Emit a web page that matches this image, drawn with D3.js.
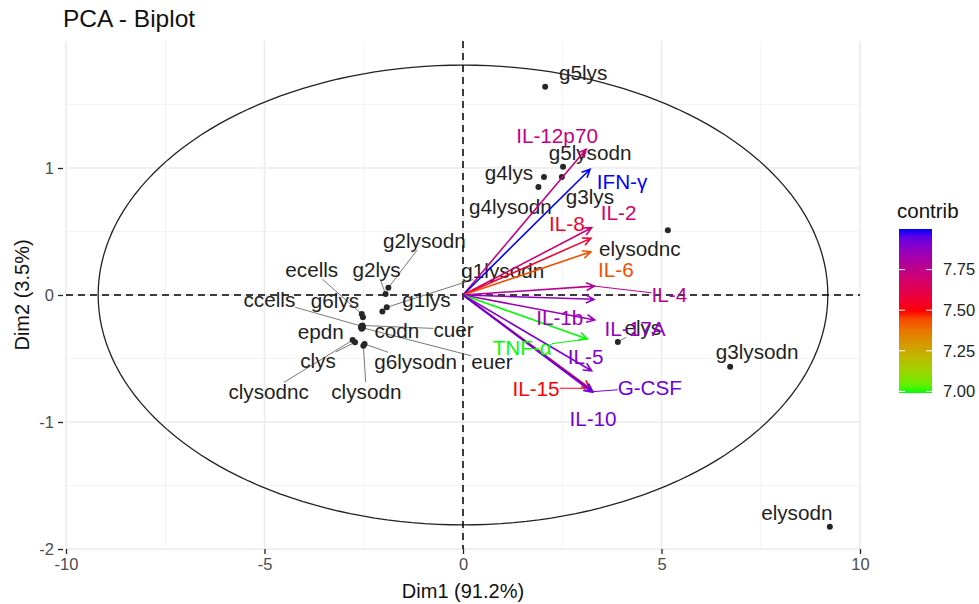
<!DOCTYPE html>
<html>
<head>
<meta charset="utf-8">
<script src="https://cdn.jsdelivr.net/npm/d3@7"></script>
<style>
  body { margin: 0; background: #fff; }
  text { font-family: "Liberation Sans", Arial, sans-serif; }
</style>
</head>
<body>
<svg id="chart" width="979" height="604"></svg>
<script>
// ---- Individuals (PCA scores) ----
const indNames = ["g5lys","g5lysodn","g4lys","g3lys","g4lysodn","elysodnc","elys","g3lysodn","elysodn",
  "g2lysodn","g2lys","g1lysodn","g1lys","ecells","g6lys","ccells","epdn","codn","cuer","euer",
  "clys","clysodnc","g6lysodn","clysodn"];
const indDim1 = [2.07, 2.52, 2.04, 2.49, 1.90, 5.16, 3.90, 6.73, 9.24,
  -1.88, -1.95, -1.92, -2.03, -2.55, -2.52, -2.56, -2.55, -2.52, -2.53, -2.57,
  -2.72, -2.78, -2.48, -2.51];
const indDim2 = [1.64, 1.01, 0.93, 0.93, 0.85, 0.51, -0.37, -0.565, -1.825,
  0.057, 0.008, -0.097, -0.13, -0.15, -0.176, -0.245, -0.265, -0.255, -0.24, -0.255,
  -0.372, -0.355, -0.386, -0.40];

// ---- Variables (scaled loadings) and their contributions ----
const varNames = ["IL-12p70","IFN-γ","IL-2","IL-8","IL-6","IL-4","IL-17A","IL-1b","TNF-α","IL-5","IL-15","G-CSF","IL-10"];
const varDim1 = [3.10, 3.20, 3.24, 3.22, 3.22, 3.31, 3.30, 3.32, 3.13, 3.24, 3.20, 3.27, 3.25];
const varDim2 = [1.147, 0.99, 0.53, 0.446, 0.34, 0.07, -0.034, -0.197, -0.346, -0.596, -0.735, -0.761, -0.765];
const varContrib = [7.73, 8.00, 7.70, 7.55, 7.44, 7.77, 7.87, 7.85, 6.99, 7.90, 7.50, 7.93, 7.92];

// ---- Axis ticks, legend ticks, correlation ellipse radii ----
const xTicks = [-10, -5, 0, 5, 10];
const yTicks = [-2, -1, 0, 1];
const xMinor = [-7.5, -2.5, 2.5, 7.5];
const yMinor = [-1.5, -0.5, 0.5, 1.5];
const legendTicks = [7.00, 7.25, 7.50, 7.75];
const ellipseRadii = [9.19, 1.81];

// ---- Repelled label placement: pixel shift from the mark, and whether a leader segment is drawn ----
const indLabelShift = {
  "g5lys": [38, -14, 0], "g5lysodn": [27, -14, 0], "g4lys": [-35, -4, 0], "g3lys": [28, 20, 0],
  "g4lysodn": [-28, 20, 0], "elysodnc": [-28, 19, 0], "elys": [25, -14, 1], "g3lysodn": [27, -15, 0],
  "elysodn": [-33, -14, 0], "g2lysodn": [36, -47, 1], "g2lys": [-9, -24, 1], "g1lysodn": [116, -37, 1],
  "g1lys": [44, -12, 0], "ecells": [-50, -44, 1], "g6lys": [-28, -17, 0], "ccells": [-92, -26, 1],
  "epdn": [-41, 3, 0], "codn": [34, 3, 0], "cuer": [91, 4, 1], "euer": [131, 34, 1],
  "clys": [-37, 19, 1], "clysodnc": [-84, 52, 1], "g6lysodn": [51, 18, 1], "clysodn": [3, 46, 1]
};
const varLabelShift = {
  "IL-12p70": [-29, -14, 0], "IFN-γ": [32, 12, 0], "IL-2": [27, -15, 0], "IL-8": [-24, -15, 0],
  "IL-6": [25, 18, 0], "IL-4": [75, 9, 1], "IL-17A": [41, 29, 0], "IL-1b": [-35, -2, 0],
  "TNF-α": [-65, 9, 1], "IL-5": [-6, -14, 0], "IL-15": [-54, 0, 1], "G-CSF": [57, -4, 1], "IL-10": [1, 27, 0]
};

const inds = indNames.map((n, i) => ({ name: n, x: indDim1[i], y: indDim2[i] }));
const vars = varNames.map((n, i) => ({ name: n, x: varDim1[i], y: varDim2[i], c: varContrib[i] }));

const svg = d3.select("#chart");
const panel = { left: 66, right: 860, top: 41, bottom: 549 };
const x = d3.scaleLinear().domain([-10, 10]).range([panel.left, panel.right]);
const y = d3.scaleLinear().domain([-2, 2]).range([panel.bottom, panel.top]);

const cMin = d3.min(varContrib), cMax = d3.max(varContrib);
const color = d3.scaleLinear()
  .domain([cMin, (cMin + cMax) / 2, cMax])
  .range(["#00ff00", "#ff0000", "#0000ff"])
  .interpolate(d3.interpolateLab);

// Grid
const grid = svg.append("g");
grid.selectAll(".xminor").data(xMinor).join("line")
  .attr("x1", d => x(d)).attr("x2", d => x(d)).attr("y1", panel.top).attr("y2", panel.bottom)
  .attr("stroke", "#f0f0f0").attr("stroke-width", 0.8);
grid.selectAll(".yminor").data(yMinor).join("line")
  .attr("y1", d => y(d)).attr("y2", d => y(d)).attr("x1", panel.left).attr("x2", panel.right)
  .attr("stroke", "#f0f0f0").attr("stroke-width", 0.8);
grid.selectAll(".xmajor").data(xTicks).join("line")
  .attr("x1", d => x(d)).attr("x2", d => x(d)).attr("y1", panel.top).attr("y2", panel.bottom)
  .attr("stroke", "#ebebeb").attr("stroke-width", 1.5);
grid.selectAll(".ymajor").data(yTicks).join("line")
  .attr("y1", d => y(d)).attr("y2", d => y(d)).attr("x1", panel.left).attr("x2", panel.right)
  .attr("stroke", "#ebebeb").attr("stroke-width", 1.5);

// Axes (plain hyphen-minus in tick labels)
const fmt = d => String(d);
const xAxis = svg.append("g").attr("transform", `translate(0,${panel.bottom})`)
  .call(d3.axisBottom(x).tickValues(xTicks).tickSize(5).tickPadding(4).tickFormat(fmt));
const yAxis = svg.append("g").attr("transform", `translate(${panel.left - 3},0)`)
  .call(d3.axisLeft(y).tickValues(yTicks).tickSize(5).tickPadding(4).tickFormat(fmt));
[xAxis, yAxis].forEach(a => {
  a.select(".domain").remove();
  a.selectAll(".tick line").attr("stroke", "#222").attr("stroke-width", 1.3);
  a.selectAll(".tick text").attr("fill", "#4d4d4d").style("font-size", "16.5px")
    .style("font-family", "'Liberation Sans', Arial, sans-serif");
});

// Correlation ellipse
const ell = d3.range(0, 361, 2).map(a => [ellipseRadii[0] * Math.cos(a * Math.PI / 180), ellipseRadii[1] * Math.sin(a * Math.PI / 180)]);
svg.append("path")
  .attr("d", d3.line().x(d => x(d[0])).y(d => y(d[1]))(ell))
  .attr("fill", "none").attr("stroke", "#222").attr("stroke-width", 1.3);

// Zero reference lines
svg.append("line").attr("x1", x(0)).attr("x2", x(0)).attr("y1", panel.top).attr("y2", panel.bottom)
  .attr("stroke", "#000").attr("stroke-width", 1.5).attr("stroke-dasharray", "7,5");
svg.append("line").attr("y1", y(0)).attr("y2", y(0)).attr("x1", panel.left).attr("x2", panel.right)
  .attr("stroke", "#000").attr("stroke-width", 1.5).attr("stroke-dasharray", "7,5");

// Leader segment from a mark to the edge of its label box
function leader(g, px, py, textNode, stroke, width) {
  const b = textNode.getBBox();
  const cx = b.x + b.width / 2, cy = b.y + b.height / 2;
  const dx = px - cx, dy = py - cy;
  const hw = b.width / 2, hh = b.height / 2 - 2;
  const t = Math.min(Math.abs(dx) > 0 ? hw / Math.abs(dx) : Infinity, Math.abs(dy) > 0 ? hh / Math.abs(dy) : Infinity);
  if (t >= 1) return;
  g.insert("line", ":first-child")
    .attr("x1", px).attr("y1", py).attr("x2", cx + dx * t).attr("y2", cy + dy * t)
    .attr("stroke", stroke).attr("stroke-width", width);
}

// Individuals
const gInd = svg.append("g");
const gIndSeg = gInd.append("g");
gInd.selectAll("circle").data(inds).join("circle")
  .attr("cx", d => x(d.x)).attr("cy", d => y(d.y)).attr("r", 3).attr("fill", "#262626");
gInd.selectAll("text").data(inds).join("text")
  .attr("x", d => x(d.x) + indLabelShift[d.name][0])
  .attr("y", d => y(d.y) + indLabelShift[d.name][1])
  .attr("dy", "0.35em").attr("text-anchor", "middle")
  .attr("fill", "#1f1f1f").style("font-size", "20.7px")
  .text(d => d.name)
  .each(function (d) {
    if (indLabelShift[d.name][2]) leader(gIndSeg, x(d.x), y(d.y), this, "#555", 0.8);
  });

// Variables: arrows with open heads
const gVar = svg.append("g");
const gVarSeg = gVar.append("g");
const head = 9, spread = Math.PI / 7;
gVar.selectAll("path.arrow").data(vars).join("path")
  .attr("class", "arrow")
  .attr("d", d => {
    const x0 = x(0), y0 = y(0), x1 = x(d.x), y1 = y(d.y);
    const ang = Math.atan2(y1 - y0, x1 - x0);
    const a1 = ang + Math.PI - spread, a2 = ang + Math.PI + spread;
    return `M${x0},${y0}L${x1},${y1}` +
      `M${x1 + head * Math.cos(a1)},${y1 + head * Math.sin(a1)}L${x1},${y1}` +
      `L${x1 + head * Math.cos(a2)},${y1 + head * Math.sin(a2)}`;
  })
  .attr("fill", "none").attr("stroke", d => color(d.c)).attr("stroke-width", 1.6)
  .attr("stroke-linejoin", "miter");
gVar.selectAll("text").data(vars).join("text")
  .attr("x", d => x(d.x) + varLabelShift[d.name][0])
  .attr("y", d => y(d.y) + varLabelShift[d.name][1])
  .attr("dy", "0.35em").attr("text-anchor", "middle")
  .attr("fill", d => color(d.c)).style("font-size", "20.7px")
  .text(d => d.name)
  .each(function (d) {
    if (varLabelShift[d.name][2]) leader(gVarSeg, x(d.x), y(d.y), this, color(d.c), 1);
  });

// Titles
svg.append("text").attr("x", 63).attr("y", 27).style("font-size", "24.5px").attr("fill", "#111").text("PCA - Biplot");
svg.append("text").attr("x", (panel.left + panel.right) / 2).attr("y", 598).attr("text-anchor", "middle")
  .style("font-size", "20px").attr("fill", "#111").text("Dim1 (91.2%)");
svg.append("text").attr("transform", `translate(29,${y(0)}) rotate(-90)`).attr("text-anchor", "middle")
  .style("font-size", "20px").attr("fill", "#111").text("Dim2 (3.5%)");

// Colour bar legend
const lg = svg.append("g");
const barX = 899, barW = 33, barTop = 229, barBot = 393;
const ly = d3.scaleLinear().domain([cMin, cMax]).range([barBot, barTop]);
lg.append("text").attr("x", 897).attr("y", 218).style("font-size", "20.5px").attr("fill", "#111").text("contrib");
const grad = svg.append("defs").append("linearGradient").attr("id", "cgrad")
  .attr("x1", 0).attr("y1", 1).attr("x2", 0).attr("y2", 0);
d3.range(0, 1.0001, 0.05).forEach(t => {
  grad.append("stop").attr("offset", t).attr("stop-color", color(cMin + t * (cMax - cMin)));
});
lg.append("rect").attr("x", barX).attr("y", barTop).attr("width", barW).attr("height", barBot - barTop)
  .attr("fill", "url(#cgrad)");
lg.selectAll("line.tl").data(legendTicks).join("line")
  .attr("x1", barX).attr("x2", barX + 6).attr("y1", d => ly(d)).attr("y2", d => ly(d))
  .attr("stroke", "#fff").attr("stroke-width", 1);
lg.selectAll("line.tr").data(legendTicks).join("line")
  .attr("x1", barX + barW - 6).attr("x2", barX + barW).attr("y1", d => ly(d)).attr("y2", d => ly(d))
  .attr("stroke", "#fff").attr("stroke-width", 1);
lg.selectAll("text.tk").data(legendTicks).join("text")
  .attr("x", 943).attr("y", d => ly(d)).attr("dy", "0.35em")
  .style("font-size", "16.5px").attr("fill", "#222").text(d => d3.format(".2f")(d));
</script>
</body>
</html>
